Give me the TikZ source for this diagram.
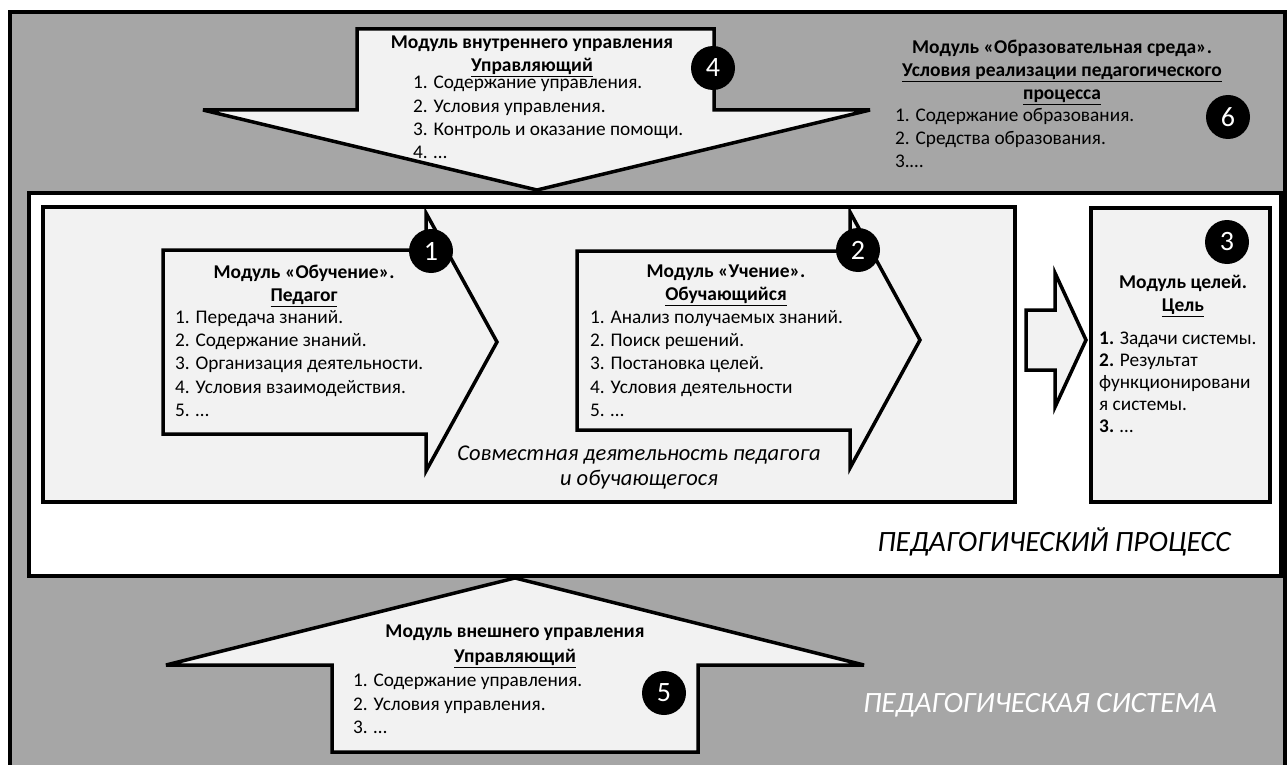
\documentclass[tikz,border=0pt]{standalone}
\usepackage{fontspec}
\setmainfont{Carlito}
\usetikzlibrary{positioning}
\definecolor{sysgray}{HTML}{A6A6A6}
\definecolor{paper}{HTML}{F2F2F2}
\tikzset{%
  outline/.style={draw=black,line width=3.5pt,line join=miter,miter limit=5},
  sysarea/.style={outline,fill=sysgray},
  procarea/.style={outline,fill=white},
  module/.style={outline,fill=paper},
  badge/.style={circle,fill=black,text=white,minimum size=44pt,inner sep=0pt,
    font=\fontsize{28}{32}\selectfont},
  head/.style={align=center,anchor=north,inner sep=0pt,
    font=\fontsize{19.5}{23}\selectfont\bfseries},
  items/.style={align=left,anchor=north west,inner sep=0pt,
    font=\fontsize{19.3}{23.3}\selectfont},
  caption/.style={inner sep=0pt,font=\fontsize{29.5}{33}\selectfont\itshape}
}

\begin{document}
\begin{tikzpicture}[x=1pt,y=-1pt]
  \useasboundingbox (0,0) rectangle (1287,765);
  \clip (0,0) rectangle (1287,765);

  % pedagogical system
  \draw[sysarea] (10,12) rectangle (1285,790);

  % module 4: internal control
  \draw[module] (357,29) -- (714,29) -- (714,110) -- (870,110) -- (537,190)
    -- (203,110) -- (357,110) -- cycle;
  \node[head] (inhead) at (532,36) {Модуль внутреннего управления\\\underline{Управляющий}};
  \node[items] (initems) at (413,76) {1. Содержание управления.\\2. Условия управления.\\3. Контроль и оказание помощи.\\4. …};
  \node[badge] (b4) at (713,68) {4};

  % module 6: environment
  \node[head] (envhead) at (1062,40) {Модуль «Образовательная среда».\\\underline{Условия реализации педагогического}\\\underline{процесса}};
  \node[items] (envitems) at (895,108) {1. Содержание образования.\\2. Средства образования.\\3.…};
  \node[badge] (b6) at (1228,117) {6};

  % pedagogical process
  \draw[procarea] (29,193) rectangle (1281,576);
  \draw[module] (43,207) rectangle (1015,502);

  % module 1
  \draw[module] (163,250) -- (426,250) -- (426,213) -- (497,342) -- (426,471)
    -- (426,434) -- (163,434) -- cycle;
  \node[head] (teachhead) at (304,265) {Модуль «Обучение».\\\underline{Педагог}};
  \node[items] (teachitems) at (175,310) {1. Передача знаний.\\2. Содержание знаний.\\3. Организация деятельности.\\4. Условия взаимодействия.\\5. …};
  \node[badge] (b1) at (431,251) {1};

  % module 2
  \draw[module] (577,251) -- (850,251) -- (850,212) -- (920,340) -- (850,468)
    -- (850,430) -- (577,430) -- cycle;
  \node[head] (learnhead) at (726,265) {Модуль «Учение».\\\underline{Обучающийся}};
  \node[items] (learnitems) at (590,310) {1. Анализ получаемых знаний.\\2. Поиск решений.\\3. Постановка целей.\\4. Условия деятельности\\5. …};
  \node[badge] (b2) at (858,250) {2};

  \node[caption,align=center,font=\fontsize{22.5}{25}\selectfont\itshape] (joint) at (639,468)
    {Совместная деятельность педагога\\и обучающегося};

  % module 3: goals
  \draw[module] (1026,310) -- (1055,310) -- (1055,273) -- (1086,340) -- (1055,407)
    -- (1055,370) -- (1026,370) -- cycle;
  \draw[module] (1091,208) rectangle (1270,502);
  \node[badge] (b3) at (1227,242) {3};
  \node[head] (goalhead) at (1183,275) {Модуль целей.\\\underline{Цель}};
  \node[items,font=\fontsize{19.3}{22}\selectfont] (goalitems) at (1099,332)
    {\textbf{1.} Задачи системы.\\\textbf{2.} Результат\\функционировани\\я системы.\\\textbf{3.} …};

  \node[caption] (proc) at (1054,542) {ПЕДАГОГИЧЕСКИЙ ПРОЦЕСС};

  % module 5: external control
  \draw[module] (515,578) -- (864,665) -- (698,665) -- (698,752) -- (332,752)
    -- (332,665) -- (166,665) -- cycle;
  \node[head,font=\fontsize{19.5}{25}\selectfont\bfseries] (exhead) at (515,625)
    {Модуль внешнего управления\\\underline{Управляющий}};
  \node[items] (exitems) at (353,674) {1. Содержание управления.\\2. Условия управления.\\3. …};
  \node[badge] (b5) at (664,693) {5};

  \node[caption,text=white] (sys) at (1040,705) {ПЕДАГОГИЧЕСКАЯ СИСТЕМА};
\end{tikzpicture}
\end{document}
